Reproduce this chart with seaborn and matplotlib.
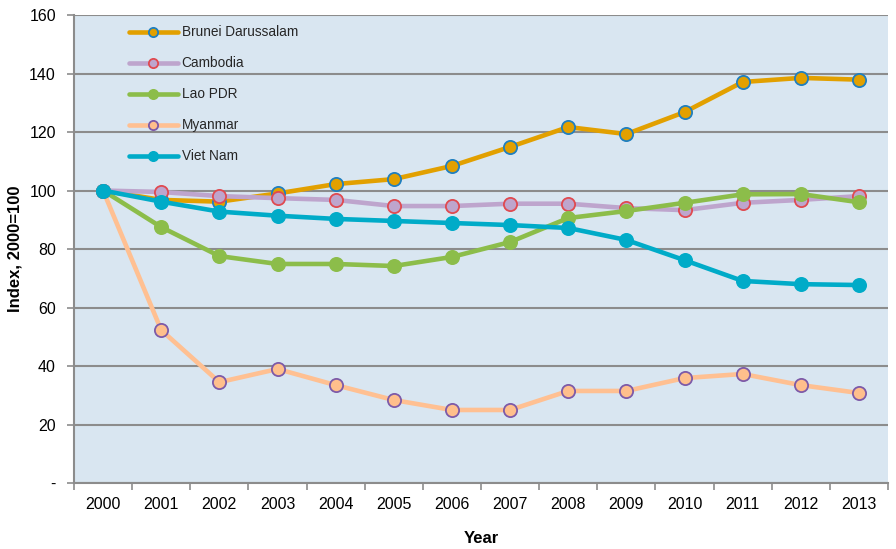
import numpy as np
import pandas as pd
import matplotlib
matplotlib.use("Agg")
import matplotlib.pyplot as plt
import seaborn as sns

years = ["2000", "2001", "2002", "2003", "2004", "2005", "2006",
         "2007", "2008", "2009", "2010", "2011", "2012", "2013"]

brunei = [100, 96.8, 96.2, 99.0, 102.2, 103.9, 108.4, 114.9, 121.7, 119.3, 126.8, 137.1, 138.5, 137.9]
cambodia = [100, 99.5, 98.1, 97.4, 96.8, 94.7, 94.7, 95.5, 95.5, 94.0, 93.3, 95.8, 96.8, 98.1]
lao = [100, 87.5, 77.6, 74.9, 74.9, 74.2, 77.3, 82.4, 90.6, 93.0, 95.8, 98.7, 98.8, 96.0]
myanmar = [100, 52.3, 34.5, 39.0, 33.5, 28.4, 25.0, 25.0, 31.5, 31.5, 35.9, 37.3, 33.5, 30.8]
vietnam = [100, 96.2, 92.8, 91.4, 90.3, 89.6, 88.9, 88.2, 87.2, 83.1, 76.2, 69.1, 68.0, 67.7]

y_ticks = [0, 20, 40, 60, 80, 100, 120, 140, 160]
y_tick_labels = ["-", "20", "40", "60", "80", "100", "120", "140", "160"]

# name, values, line colour, marker face, marker edge
series = [
    ("Brunei Darussalam", brunei, "#e2a000", "#e2a000", "#1f7fc0"),
    ("Cambodia", cambodia, "#bea5cd", "#bea5cd", "#e04a50"),
    ("Lao PDR", lao, "#8cbd4a", "#8cbd4a", "#8cbd4a"),
    ("Myanmar", myanmar, "#ffc092", "#ffbf8c", "#7d5aa8"),
    ("Viet Nam", vietnam, "#00abc8", "#00abc8", "#00abc8"),
]

sns.set_style("white")
plt.rcParams["font.family"] = ["Liberation Sans", "DejaVu Sans"]
plt.rcParams["xtick.bottom"] = True
plt.rcParams["ytick.left"] = True

fig = plt.figure(figsize=(8.96, 5.49), dpi=100)
ax = fig.add_axes([0.0826, 0.12, 0.9085, 0.8527])
ax.set_facecolor("#d9e6f1")

x = np.arange(len(years))
for name, vals, lc, fc, ec in series:
    sns.lineplot(x=x, y=vals, ax=ax, color=lc, linewidth=3.3, marker="o",
                 markersize=9.5, markerfacecolor=fc, markeredgecolor=ec,
                 markeredgewidth=1.3, label=name, zorder=3)

ax.set_xlim(-0.5, len(years) - 0.5)
ax.set_ylim(0, 160)
ax.set_yticks(y_ticks)
ax.set_yticklabels(y_tick_labels, fontsize=11.5, color="black")
ax.set_xticks(x)
ax.set_xticklabels(years, fontsize=11.5, color="black")
ax.tick_params(axis="x", which="major", length=0, pad=10)
ax.set_xticks(np.arange(-0.5, len(years), 1), minor=True)
ax.tick_params(axis="x", which="minor", length=5, color="#8c8c8c", width=1.2)
ax.tick_params(axis="y", length=5, color="#8c8c8c", width=1.2, pad=8)

ax.grid(axis="y", color="#8c8c8c", linewidth=1.5, zorder=1)
ax.set_axisbelow(True)
for side in ["top", "right"]:
    ax.spines[side].set_visible(False)
for side in ["left", "bottom"]:
    ax.spines[side].set_color("#8c8c8c")
    ax.spines[side].set_linewidth(1.5)

ax.set_xlabel("Year", fontsize=12, fontweight="bold", labelpad=14, color="black")
ax.set_ylabel("Index, 2000=100", fontsize=12, fontweight="bold", labelpad=5, color="black")

ax.legend(loc="upper left", bbox_to_anchor=(0.052, 1.004), frameon=False,
          fontsize=9.8, handlelength=3.6, labelspacing=1.25, handletextpad=0.3,
          markerscale=0.7)

fig.savefig("out.png", dpi=100)
